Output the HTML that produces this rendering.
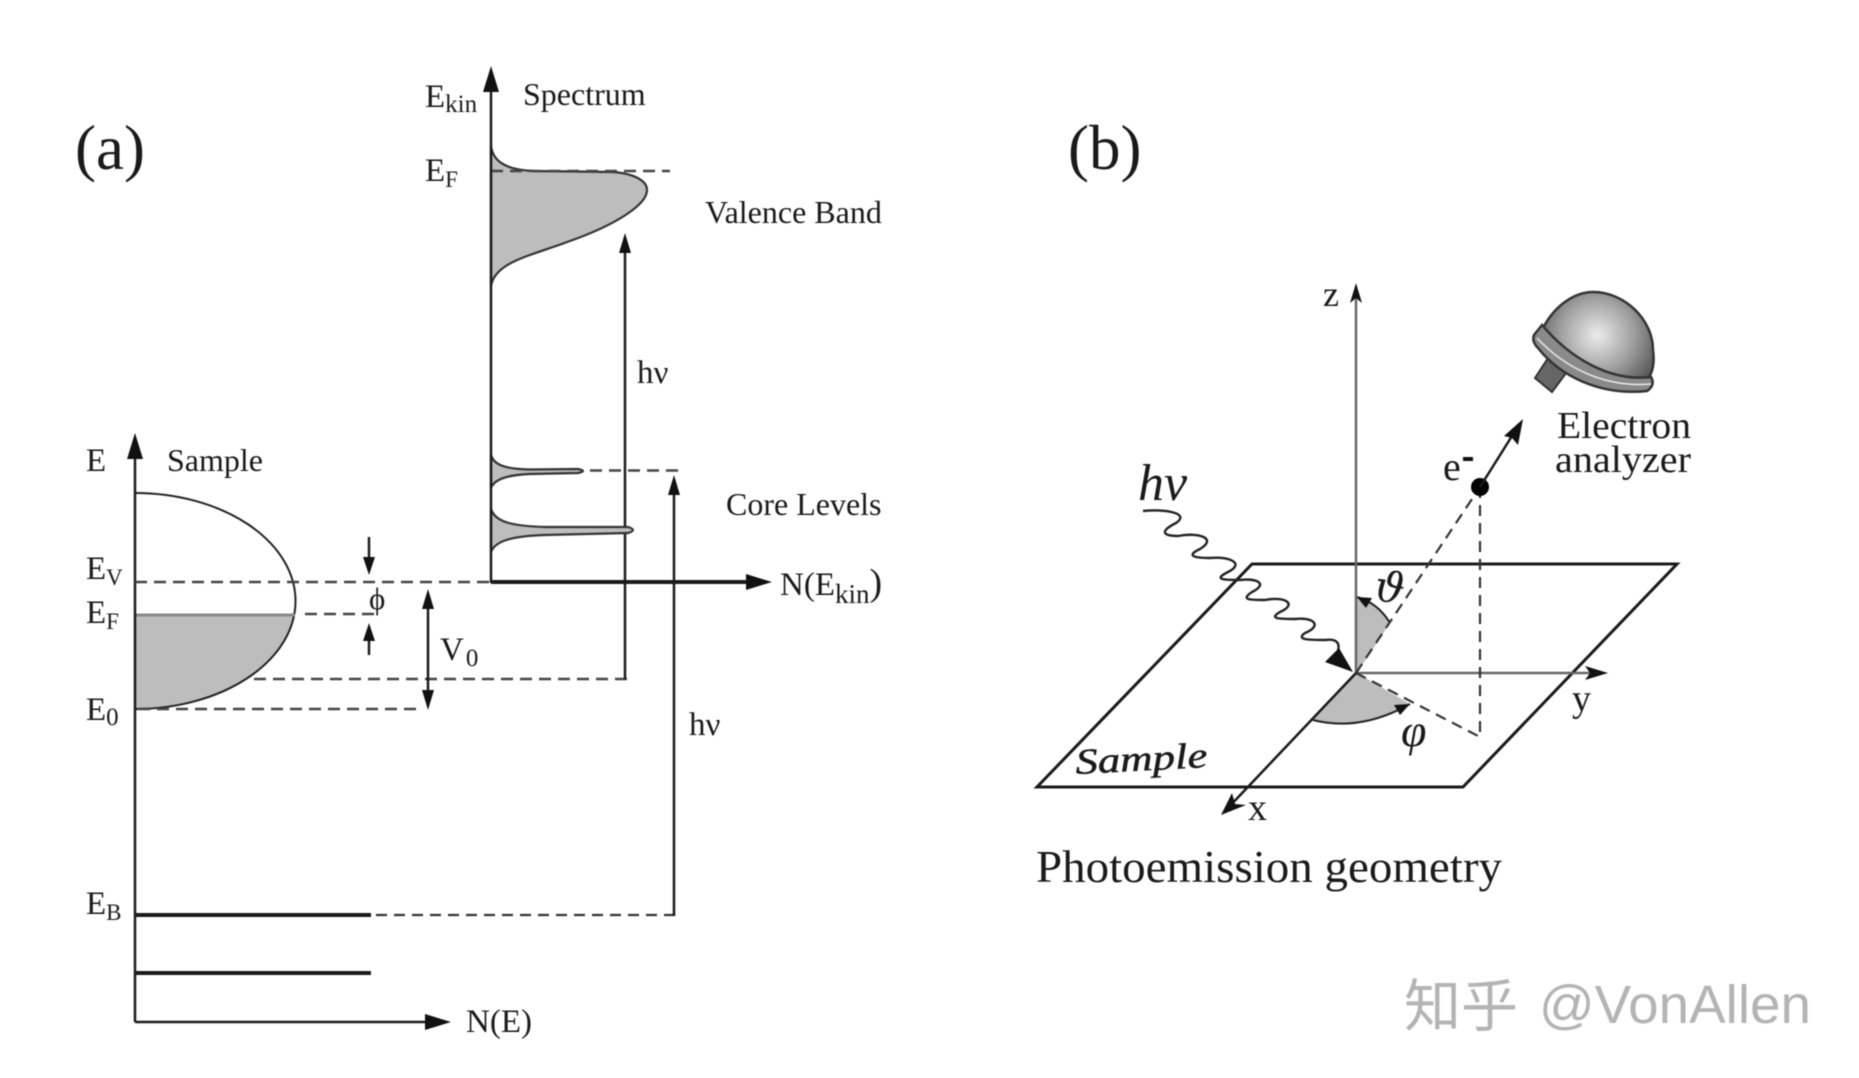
<!DOCTYPE html>
<html>
<head>
<meta charset="utf-8">
<style>
html,body{margin:0;padding:0;background:#fff;width:1859px;height:1078px;overflow:hidden}
svg{display:block;filter:blur(0.5px)}
text{font-family:"Liberation Serif","Noto Serif CJK SC",serif;fill:#1a1a1a}
.s{font-size:33px}
.w{font-size:32px}
.l{fill:none;stroke:#1a1a1a;stroke-width:2.5}
.t{fill:none;stroke:#1a1a1a;stroke-width:4}
.d{fill:none;stroke:#444;stroke-width:2.5;stroke-dasharray:12 7}
.b{fill:none;stroke:#333;stroke-width:2.2;stroke-dasharray:11 7}
.a{fill:#111;stroke:none}
.g{fill:#bdbdbd}
</style>
</head>
<body>
<svg width="1859" height="1078" viewBox="0 0 1859 1078" xmlns="http://www.w3.org/2000/svg">
<defs>
<radialGradient id="dome" gradientUnits="userSpaceOnUse" cx="1597" cy="335" r="66">
<stop offset="0" stop-color="#ececec"/><stop offset="0.55" stop-color="#a0a0a0"/><stop offset="1" stop-color="#555"/>
</radialGradient>
</defs>

<!-- Panel a labels -->
<text x="75" y="169" font-size="63">(a)</text>
<text x="1068" y="169" font-size="63">(b)</text>
<text x="425" y="107" class="s">E<tspan font-size="25" dy="5">kin</tspan></text>
<text x="523" y="105" class="w">Spectrum</text>
<text x="425" y="181" class="s">E<tspan font-size="23" dy="6">F</tspan></text>
<text x="705" y="223" class="w">Valence Band</text>
<text x="637" y="383" class="s">hν</text>
<text x="726" y="515" class="w">Core Levels</text>
<text x="86" y="471" class="s">E</text>
<text x="167" y="471" class="w">Sample</text>
<text x="86" y="579" class="s">E<tspan font-size="23" dy="6">V</tspan></text>
<text x="86" y="623" class="s">E<tspan font-size="23" dy="6">F</tspan></text>
<text x="86" y="720" class="s">E<tspan font-size="25" dy="5">0</tspan></text>
<text x="86" y="914" class="s">E<tspan font-size="23" dy="6">B</tspan></text>
<text x="369" y="609" font-size="31">ϕ</text>
<text x="440" y="660" class="s">V<tspan font-size="25" dx="2" dy="6">0</tspan></text>
<text x="780" y="595" class="s">N(E<tspan font-size="27" dy="8">kin</tspan><tspan dy="-8" font-size="38">)</tspan></text>
<text x="689" y="735" class="s">hν</text>
<text x="466" y="1032" class="s">N(E)</text>

<!-- Sample band -->
<path class="g" d="M135,614 L295,614 A160,108 0 0 1 135,709 Z"/>
<path d="M135,493 A160.5,108 0 0 1 135,709" fill="none" stroke="#222" stroke-width="2"/>
<line x1="135" y1="615" x2="295" y2="615" stroke="#888" stroke-width="3"/>

<!-- Axes, left -->
<line class="l" x1="135" y1="450" x2="135" y2="1022" stroke-width="3"/>
<polygon class="a" points="135,433 127,459 143,459"/>
<line class="l" x1="135" y1="1022" x2="430" y2="1022"/>
<polygon class="a" points="451,1022 425,1014 425,1030"/>

<!-- Level lines -->
<line class="t" x1="135" y1="915" x2="371" y2="915"/>
<line class="t" x1="135" y1="973" x2="371" y2="973"/>
<line class="b" x1="376" y1="915" x2="676" y2="915"/>
<line class="d" x1="135" y1="582" x2="491" y2="582"/>
<line class="d" x1="305" y1="614" x2="375" y2="614"/>
<line class="d" x1="254" y1="679" x2="627" y2="679"/>
<line class="d" x1="138" y1="709" x2="421" y2="709"/>

<!-- Phi arrows -->
<line class="l" x1="369" y1="537" x2="369" y2="562"/>
<polygon class="a" points="369,575 363,557 375,557"/>
<line class="l" x1="369" y1="655" x2="369" y2="635"/>
<polygon class="a" points="369,623 363,641 375,641"/>

<!-- V0 arrow -->
<line class="l" x1="428" y1="600" x2="428" y2="700"/>
<polygon class="a" points="428,589 422,609 434,609"/>
<polygon class="a" points="428,710 422,690 434,690"/>

<!-- hv arrows -->
<line class="l" x1="625" y1="248" x2="625" y2="679"/>
<polygon class="a" points="625,233 619,253 631,253"/>
<line class="l" x1="674" y1="490" x2="674" y2="916"/>
<polygon class="a" points="674,475 668,495 680,495"/>

<!-- Spectrum peaks -->
<path class="g" stroke="#333" stroke-width="2.2" d="M491,146 C493,162 507,170 534,171 L612,172 C632,173 647,180 647,190 C647,205 615,225 570,241 C530,256 495,262 491,286 Z"/>
<path class="g" stroke="#333" stroke-width="2.2" d="M491,455 C494,465 505,469 530,469.5 L578,469 Q588,471 578,473 L530,474 C505,475 494,480 491,488 Z"/>
<path class="g" stroke="#333" stroke-width="2.2" d="M491,509 C495,522 512,526 545,527 L628,527 Q638,530 628,533 L545,535 C512,536 495,541 491,552 Z"/>
<line class="d" x1="491" y1="171" x2="670" y2="171"/>
<line class="d" x1="590" y1="470.5" x2="680" y2="470.5"/>

<!-- Axes, spectrum -->
<line class="l" x1="491" y1="80" x2="491" y2="583" stroke-width="3"/>
<polygon class="a" points="491,66 483,92 499,92"/>
<line class="t" x1="491" y1="582" x2="750" y2="582"/>
<polygon class="a" points="772,582 746,574 746,590"/>

<!-- Panel b -->
<polygon points="1252,564 1677,564 1463,787 1037,787" fill="none" stroke="#1a1a1a" stroke-width="3"/>
<path class="g" d="M1357,597 Q1378,603 1390,623 L1357,673 Z"/>
<path class="g" d="M1357,673 L1313,720 Q1360,732 1410,704 Z"/>
<path d="M1357,597 Q1378,603 1390,623" fill="none" stroke="#222" stroke-width="2"/>
<path d="M1313,720 Q1360,732 1410,704" fill="none" stroke="#222" stroke-width="2"/>
<polygon class="a" points="1357,597 1372,598 1366,608"/>
<polygon class="a" points="1410,704 1394,705 1400,715"/>

<line x1="1356" y1="673" x2="1356" y2="295" stroke="#666" stroke-width="2.5"/>
<polygon class="a" points="1356,283 1350,303 1356,298 1362,303"/>
<line x1="1356" y1="673" x2="1596" y2="673" stroke="#666" stroke-width="2.5"/>
<polygon class="a" points="1608,673 1585,666 1590,673 1585,680"/>
<line class="l" x1="1356" y1="673" x2="1227" y2="809"/>
<polygon class="a" points="1221,815 1232,793 1235,804 1246,805"/>

<line class="b" x1="1356" y1="673" x2="1480" y2="487"/>
<line class="b" x1="1480" y1="487" x2="1480" y2="737"/>
<line class="b" x1="1356" y1="673" x2="1480" y2="737"/>
<circle cx="1480" cy="487" r="9" fill="#000"/>
<line class="l" x1="1480" y1="487" x2="1517" y2="428"/>
<polygon class="a" points="1523,419 1504,436 1512,438 1518,445"/>

<!-- Photon wave -->
<path fill="none" stroke="#222" stroke-width="2.4" d="M1143,511 C1160,509 1192,512 1176,523 C1160,531 1162,536 1178,536 C1198,532 1218,538 1200,549 C1185,556 1195,558 1210,558 C1228,556 1246,563 1228,572 C1212,580 1225,580 1240,580 C1258,578 1268,584 1252,592 C1240,600 1250,600 1265,600 C1285,596 1298,604 1280,612 C1268,619 1280,619 1295,619 C1315,617 1322,626 1305,633 C1295,640 1310,640 1325,640 C1340,638 1340,646 1337,654"/>
<polygon class="a" points="1353,672 1325,662 1339,648"/>

<!-- Analyzer -->
<polygon fill="#666" stroke="#333" stroke-width="2" points="1552,352 1535,378 1552,392 1572,365"/>
<path fill="url(#dome)" stroke="#333" stroke-width="2.5" d="M1543,328 C1555,305 1575,292 1593,292 C1625,292 1653,320 1653,350 C1655,365 1652,372 1648,380 C1610,384 1570,360 1543,328 Z"/>
<path fill="#8a8a8a" stroke="#333" stroke-width="2.5" d="M1542,325 L1534,335 C1532,340 1534,344 1538,348 C1560,376 1600,396 1647,391 C1653,387 1654,382 1651,377 C1610,382 1570,358 1542,325 Z"/>
<path fill="none" stroke="#e6e6e6" stroke-width="1.6" d="M1537,338 C1565,368 1605,388 1651,384"/>

<text x="1323" y="306" font-size="36">z</text>
<text x="1557" y="438" font-size="38" textLength="134" lengthAdjust="spacingAndGlyphs">Electron</text>
<text x="1555" y="472" font-size="38" textLength="136" lengthAdjust="spacingAndGlyphs">analyzer</text>
<text x="1443" y="480" font-size="40">e</text>
<rect x="1463" y="457" width="10" height="4" fill="#111"/>
<text x="1138" y="500" font-size="52" font-style="italic">hν</text>
<text x="1373" y="600" font-size="42" font-style="italic" transform="rotate(8 1373 600)" style="font-family:'DejaVu Serif',serif">ϑ</text>
<text x="1401" y="746" font-size="46" font-style="italic">φ</text>
<text x="1572" y="711" font-size="38">y</text>
<text x="1248" y="820" font-size="38">x</text>
<text x="1076" y="774" font-size="36" font-style="italic" textLength="132" lengthAdjust="spacingAndGlyphs" transform="rotate(-3 1076 774)" stroke="#1a1a1a" stroke-width="0.5">Sample</text>
<text x="1036" y="882" font-size="46" textLength="466" lengthAdjust="spacingAndGlyphs">Photoemission geometry</text>

<!-- Watermark -->
<text x="1404" y="1026" font-size="57" style="font-family:'Noto Sans CJK SC',sans-serif;fill:#b4b4b4">知乎</text>
<text x="1539" y="1023" font-size="54" textLength="272" lengthAdjust="spacingAndGlyphs" style="font-family:'Liberation Sans',sans-serif;fill:#b4b4b4">@VonAllen</text>
</svg>
</body>
</html>
